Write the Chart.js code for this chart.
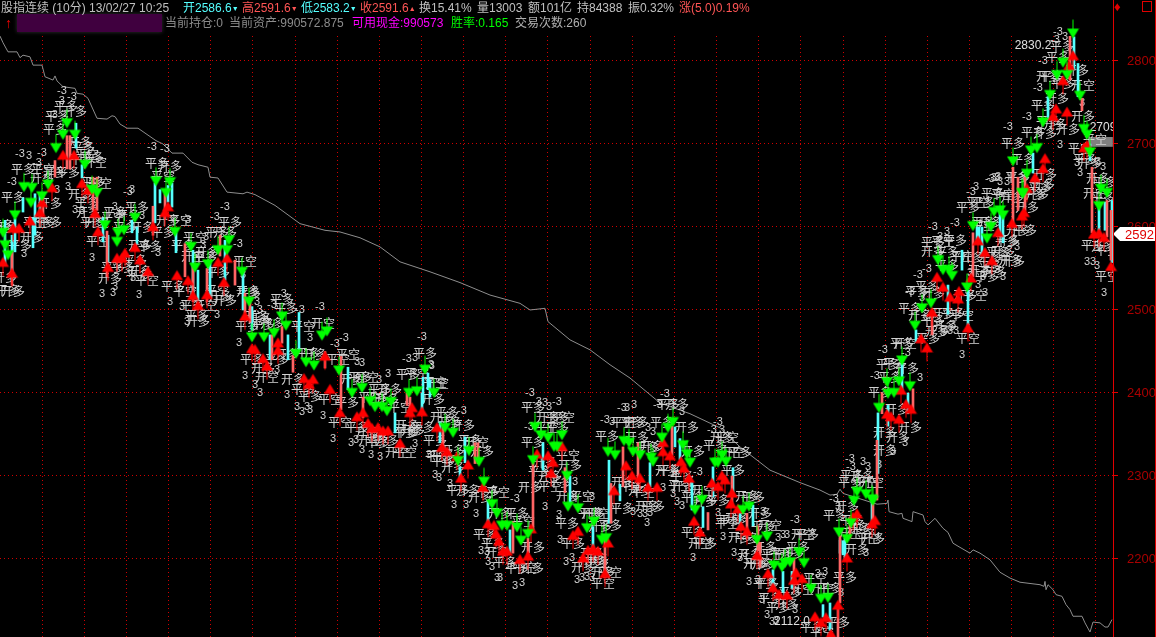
<!DOCTYPE html>
<html lang="zh">
<head>
<meta charset="UTF-8">
<title>股指连续 (10分)</title>
<script src="https://cdn.jsdelivr.net/npm/chart.js"></script>
<style>
  html, body { margin: 0; background: #000; overflow: hidden; }
  #wrap { position: relative; width: 1156px; height: 637px; background: #000; font: 12px "Liberation Sans", "Noto Sans CJK SC", sans-serif; }
  canvas { position: absolute; left: 0; top: 0; }
  #wrap span { position: absolute; white-space: nowrap; line-height: 14px; }
  .l1 { top: 1px; } .l2 { top: 16px; }
  .g { color: #c0c0c0; } .d { color: #8c8c8c; } .c { color: #55ffff; } .r { color: #ff5555; }
  #wrap i { font-style: normal; font-size: 7px; vertical-align: 1px; }
  #mask { position: absolute; left: 17px; top: 14px; width: 145px; height: 18px; background: #40003f; box-shadow: 0 0 4px #333; }
  #axisL { position: absolute; left: 1113px; top: 0; width: 1px; height: 637px; background: #e00000; }
  #axisR { position: absolute; left: 1155px; top: 0; width: 1px; height: 637px; background: #e00000; }
  #box { position: absolute; left: 1142px; top: 1px; width: 8px; height: 9px; border: 1px solid #e00000; }
</style>
</head>
<body>
<div id="wrap">
  <canvas id="c" width="1156" height="637"></canvas>
  <div id="axisL"></div><div id="axisR"></div><div id="box"></div>
  <div id="mask"></div>
  <span class="l1 g" style="left:1px">股指连续 (10分) 13/02/27 10:25</span>
  <span class="l1 c" style="left:183px">开2586.6<i>▼</i></span>
  <span class="l1 r" style="left:242px">高2591.6<i>▼</i></span>
  <span class="l1 c" style="left:301px">低2583.2<i>▼</i></span>
  <span class="l1 r" style="left:360px">收2591.6<i>▲</i></span>
  <span class="l1 g" style="left:419px">换15.41%</span>
  <span class="l1 g" style="left:477px">量13003</span>
  <span class="l1 g" style="left:528px">额101亿</span>
  <span class="l1 g" style="left:577px">持84388</span>
  <span class="l1 g" style="left:628px">振0.32%</span>
  <span class="l1 r" style="left:679px">涨(5.0)0.19%</span>
  <span class="l2" style="left:5px;color:#ff0000;font-weight:bold;font-size:14px">↑</span>
  <span class="l2 d" style="left:165px">当前持仓:0</span>
  <span class="l2 d" style="left:229px">当前资产:990572.875</span>
  <span class="l2" style="left:352px;color:#ff00ff">可用现金:990573</span>
  <span class="l2" style="left:451px;color:#00ff00">胜率:0.165</span>
  <span class="l2" style="left:515px;color:#b0b0b0">交易次数:260</span>
  <span style="left:1114px;top:0;color:#e00000;font-size:13px">♦</span>
</div>
<script>
const equity = [[0,2830],[3,2822],[8,2811],[17,2811],[20,2804],[23,2807],[30,2805],[33,2795],[42,2795],[45,2781],[53,2777],[55,2782],[57,2776],[63,2769],[75,2767],[77,2761],[83,2760],[88,2755],[97,2731],[107,2730],[112,2734],[115,2733],[120,2724],[127,2719],[138,2719],[156,2704],[163,2700],[172,2689],[183,2689],[192,2678],[198,2675],[208,2672],[210,2660],[218,2659],[227,2642],[243,2640],[247,2642],[255,2639],[275,2626],[300,2604],[325,2596],[340,2594],[360,2587],[380,2576],[400,2558],[430,2546],[460,2533],[490,2518],[520,2508],[530,2500],[545,2502],[548,2486],[570,2464],[590,2452],[610,2434],[630,2418],[650,2398],[660,2388],[690,2375],[720,2358],[740,2335],[770,2307],[800,2292],[820,2283],[830,2277],[837,2278],[840,2284],[843,2279],[877,2266],[887,2267],[888,2271],[889,2257],[898,2254],[902,2255],[903,2249],[912,2245],[913,2257],[923,2253],[925,2245],[928,2241],[935,2249],[943,2237],[948,2232],[953,2219],[960,2214],[970,2207],[973,2211],[980,2207],[990,2199],[1000,2184],[1010,2177],[1020,2172],[1040,2169],[1044,2167],[1045,2173],[1046,2163],[1048,2169],[1053,2163],[1056,2157],[1062,2155],[1066,2145],[1070,2139],[1073,2131],[1082,2131],[1085,2123],[1090,2112],[1093,2124],[1100,2123],[1105,2118],[1108,2118],[1112,2127]];

const buys = [[12,2545],[3,2558],[19,2599],[13,2599],[30,2608],[40,2618],[42,2630],[52,2648],[63,2687],[74,2687],[82,2653],[88,2645],[95,2617],[98,2595],[108,2552],[117,2563],[122,2563],[125,2569],
[135,2576],[140,2561],[148,2547],[153,2601],[165,2618],[168,2625],[177,2542],[188,2536],[193,2518],[198,2506],[207,2519],[224,2534],[218,2558],[227,2563],[245,2493],
[252,2454],[255,2453],[263,2442],[267,2433],[278,2461],[278,2452],[304,2418],[309,2411],[313,2417],[325,2445],[330,2405],[340,2377],[357,2372],[363,2377],[368,2364],[372,2358],[378,2359],[383,2355],[388,2355],[400,2340],[412,2383],[410,2377],[422,2378],[437,2359],[442,2335],[447,2330],[457,2324],
[461,2298],[468,2314],[483,2287],[488,2243],[494,2241],[496,2231],[499,2222],[503,2210],[507,2210],[520,2200],[528,2204],[531,2237],[537,2327],[548,2325],[553,2317],[551,2304],[562,2336],[573,2229],[578,2234],[583,2202],[588,2211],[593,2213],[598,2210],
[608,2220],[605,2183],[614,2283],[626,2313],[632,2301],[640,2298],[648,2287],[657,2287],[663,2330],[663,2341],[670,2325],[681,2318],[684,2310],[689,2298],[694,2246],[700,2233],[712,2292],[718,2288],[722,2301],[725,2296],[732,2280],[731,2267],[738,2261],[741,2240],[747,2234],[757,2205],[768,2183],
[773,2166],[779,2158],[787,2157],[794,2175],[796,2184],[802,2177],[815,2131],[821,2124],[826,2130],[831,2110],[838,2145],[847,2202],[853,2251],[857,2255],[872,2243],[875,2247],[887,2375],[891,2372],[899,2369],[906,2387],[911,2381],[901,2404],
[921,2466],[927,2455],[932,2498],[937,2540],[943,2528],[950,2516],[959,2523],[958,2514],[968,2479],[971,2539],[978,2584],[985,2570],[992,2560],[998,2594],[1012,2605],[1022,2614],[1024,2618],[1027,2647],[1035,2660],[1043,2671],[1045,2683],[1053,2734],[1056,2743],[1063,2777],[1067,2739],[1073,2807],[1069,2795],[1084,2696],[1087,2699],[1094,2592],[1099,2593],[1104,2588],[1111,2553]];

const sells = [[3,2593],[5,2578],[8,2566],[15,2614],[24,2648],[32,2647],[31,2629],[42,2637],[48,2651],[56,2695],[63,2711],[67,2725],[75,2711],[85,2675],[92,2645],[97,2641],[105,2602],[117,2582],[118,2593],[124,2596],
[135,2611],[156,2655],[170,2654],[166,2641],[175,2594],[191,2576],[195,2551],[208,2555],[229,2584],[218,2572],[227,2572],[242,2546],[249,2510],
[252,2467],[264,2467],[274,2472],[282,2492],[286,2481],[296,2447],[306,2437],[314,2433],[322,2469],[327,2474],[339,2427],[352,2400],[362,2406],[370,2390],[375,2383],[382,2383],[387,2378],[391,2389],[409,2400],[417,2402],[425,2428],[434,2400],[445,2358],[453,2352],
[458,2318],[469,2330],[479,2317],[484,2293],[492,2266],[497,2255],[502,2240],[507,2240],[517,2238],[528,2230],[521,2222],[535,2359],[541,2349],[533,2319],[548,2346],[554,2335],[562,2349],[557,2335],[567,2300],[568,2263],[578,2261],[587,2237],[594,2245],
[602,2223],[606,2225],[608,2329],[615,2325],[624,2342],[629,2340],[633,2329],[640,2325],[651,2322],[653,2317],[668,2358],[673,2365],[662,2346],[683,2337],[687,2326],[690,2316],[695,2259],[702,2271],[715,2316],[722,2325],[726,2317],[718,2316],[743,2259],[749,2263],[757,2223],[767,2227],
[774,2192],[782,2190],[785,2195],[790,2196],[799,2208],[804,2195],[811,2164],[821,2152],[828,2153],[839,2232],[847,2224],[851,2243],[854,2270],[857,2281],[866,2278],[872,2272],[873,2270],[879,2382],[888,2399],[894,2400],[887,2413],[899,2414],[910,2408],[902,2439],
[915,2481],[922,2502],[931,2508],[938,2560],[943,2548],[949,2548],[952,2541],[967,2527],[973,2601],[987,2586],[991,2600],[994,2618],[1000,2620],[1003,2614],[1013,2679],[1022,2641],[1023,2640],[1027,2664],[1031,2692],[1037,2695],[1043,2726],[1050,2759],[1057,2783],[1063,2798],[1067,2783],[1073,2833],[1080,2758],[1084,2718],[1087,2711],[1090,2690],[1099,2625],[1101,2646],[1107,2641]];

// x, low, high
const downWicks = [[5,2554,2608],[12,2535,2590],[15,2570,2610],[23,2618,2635],[33,2575,2611],[35,2590,2640],[40,2610,2640],[76,2695,2725],[82,2659,2675],[103,2582,2611],[108,2558,2590],
[155,2605,2653],[160,2629,2645],[168,2630,2650],[172,2624,2653],[132,2593,2608],[137,2580,2600],[176,2569,2593],[193,2516,2572],[198,2512,2548],[210,2516,2557],[225,2536,2584],[243,2500,2545],
[299,2452,2497],[252,2476,2504],[288,2440,2470],[270,2440,2470],[348,2404,2431],[423,2388,2419],[430,2395,2416],[395,2352,2376],[440,2340,2365],
[422,2380,2400],[428,2404,2424],[465,2316,2347],[460,2295,2311],[488,2245,2270],[510,2207,2235],[543,2307,2340],[570,2265,2300],[593,2211,2239],
[609,2243,2319],[620,2270,2290],[650,2287,2316],[675,2335,2359],[680,2320,2345],[692,2259,2292],[703,2238,2263],[713,2275,2311],[733,2280,2310],[753,2240,2265],
[740,2235,2262],[773,2166,2187],[783,2160,2185],[792,2165,2185],[830,2114,2147],[823,2130,2145],[843,2205,2222],
[878,2303,2376],[888,2360,2385],[902,2400,2436],[908,2375,2400],[840,2207,2223],[845,2200,2225],[872,2240,2270],
[916,2462,2476],[962,2548,2572],[968,2479,2524],[977,2584,2600],[979,2584,2600],[948,2495,2530],[1000,2592,2617],
[982,2565,2600],[1003,2581,2617],[1033,2665,2689],[1048,2729,2757],[1074,2789,2829],[1078,2757,2797],[1090,2680,2700],[1112,2557,2632],[1099,2596,2625],[1105,2596,2630]];

const upWicks = [[1013,2600,2672],[1070,2777,2834],[1092,2593,2672],[1107,2588,2632],[1111,2560,2620],[1082,2740,2755],
[973,2540,2593],[1018,2620,2660],[932,2470,2498],[1025,2620,2660],
[877,2271,2343],[873,2240,2275],[913,2380,2405],[882,2375,2400],[850,2225,2250],
[838,2106,2147],[840,2147,2228],[794,2175,2200],[758,2210,2240],
[611,2243,2291],[605,2180,2225],[623,2287,2335],[638,2290,2340],[672,2325,2360],[708,2235,2256],[732,2265,2300],[747,2225,2255],[760,2190,2220],
[533,2235,2316],[513,2207,2245],[528,2200,2225],[565,2280,2310],[478,2315,2340],[475,2315,2340],[443,2335,2360],[407,2385,2400],
[341,2380,2444],[245,2496,2520],[272,2440,2470],[282,2460,2480],[293,2425,2445],[325,2430,2450],[363,2370,2395],[410,2375,2395],
[67,2670,2710],[70,2670,2710],[55,2660,2680],[12,2530,2570],[43,2615,2640],[107,2540,2595],[93,2620,2660],[97,2620,2660],
[153,2590,2625],[165,2610,2640],[185,2540,2580],[193,2510,2555],[207,2510,2550],[220,2565,2590],[235,2530,2560],[250,2485,2510]];

const greyBand = [[1101,2697,2708]];

const pingDuo = [[57,2733],[66,2745],[55,2717],[83,2696],[23,2669],[68,2666],[92,2684],[82,2681],[93,2654],[87,2630],[92,2606],[13,2635],[50,2606],[20,2578],[2,2602],[115,2617],[125,2600],[113,2551],[123,2551],[8,2524],
[157,2677],[137,2623],[163,2593],[150,2576],[183,2578],[135,2560],[173,2528],[205,2563],[192,2506],[197,2494],[217,2594],[230,2605],[218,2545],[247,2480],[138,2542],
[249,2520],[282,2513],[286,2502],[263,2482],[252,2440],[277,2440],[308,2448],[303,2404],[310,2396],[347,2389],[360,2419],[380,2404],[377,2395],[357,2359],[377,2347],[407,2352],[423,2358],[408,2422],[425,2448],[447,2376],[435,2343],[443,2325],[378,2341],
[405,2353],[437,2323],[443,2317],[470,2343],[458,2283],[488,2281],[517,2255],[485,2229],[493,2219],[505,2196],[517,2189],[533,2382],[557,2370],[533,2341],[540,2305],[560,2292],[590,2255],[567,2243],[573,2219],[597,2199],[557,2358],
[610,2241],[597,2196],[622,2261],[632,2287],[607,2348],[632,2364],[662,2365],[647,2334],[682,2299],[693,2274],[718,2271],[693,2232],[705,2219],[668,2386],[653,2263],[740,2328],[733,2307],[715,2337],[753,2274],[730,2247],[747,2225],[763,2239],[757,2195],[767,2171],[670,2307],
[782,2207],[798,2214],[807,2229],[765,2171],[790,2160],[770,2153],[778,2142],[830,2165],[812,2118],[838,2124],[845,2178],[835,2253],[852,2247],[863,2235],
[902,2460],[888,2434],[895,2436],[890,2419],[880,2401],[852,2301],[850,2292],
[968,2623],[993,2641],[1040,2648],[1017,2660],[1025,2596],[1007,2582],[933,2581],[955,2584],[947,2569],[990,2563],[947,2554],[987,2540],[927,2528],[917,2522],[910,2502],[933,2488],[953,2496],[928,2466],
[1062,2817],[1058,2804],[1052,2781],[1063,2773],[1043,2747],[1048,2727],[1033,2714],[1013,2701],[1023,2681],[1018,2660],[1033,2639],[983,2629],[983,2605],[998,2569],[990,2552],[1085,2681],[1105,2654],[1103,2636],[1093,2578],[1107,2572]];

const kaiDuo = [[75,2739],[80,2702],[55,2666],[42,2659],[80,2639],[88,2618],[50,2628],[43,2606],[32,2587],[5,2599],[128,2614],[110,2538],[5,2539],[13,2522],
[170,2673],[168,2608],[142,2600],[140,2578],[140,2546],[207,2569],[198,2486],[225,2593],[220,2516],[225,2512],[248,2522],[257,2492],
[260,2490],[272,2484],[293,2416],[263,2430],[287,2446],[315,2446],[352,2416],[390,2404],[387,2392],[367,2352],[387,2343],[407,2361],[433,2392],[450,2364],[453,2331],[413,2355],
[442,2371],[463,2361],[453,2310],[482,2329],[468,2283],[480,2274],[500,2255],[497,2208],[533,2214],[532,2189],[548,2370],[545,2316],[570,2313],[550,2299],[530,2286],[568,2275],[592,2207],[583,2190],
[593,2255],[600,2239],[590,2196],[603,2184],[623,2292],[640,2283],[637,2365],[637,2346],[652,2335],[667,2307],[683,2287],[705,2269],[677,2386],[687,2358],[693,2329],[647,2263],[722,2346],[747,2275],[737,2249],[740,2226],[765,2214],[763,2193],
[760,2255],[750,2205],[755,2195],[792,2207],[787,2145],[847,2263],[857,2211],[873,2225],
[907,2430],[897,2380],[910,2359],[885,2353],[898,2347],[885,2331],[862,2299],[858,2237],
[1012,2635],[1037,2639],[1018,2596],[933,2570],[972,2563],[1003,2570],[1013,2558],[980,2548],[995,2545],[933,2520],[965,2518],[920,2494],[943,2496],[945,2480],[937,2474],
[1048,2781],[1077,2789],[1057,2755],[1068,2717],[1055,2723],[1045,2713],[1045,2663],[1043,2651],[1027,2624],[990,2605],[1010,2560],[1008,2584],[1083,2733],[1090,2677],[1098,2659],[1103,2576]];

const pingKong = [[43,2669],[87,2687],[100,2653],[35,2606],[98,2582],[113,2611],
[163,2661],[180,2608],[195,2588],[147,2536],[185,2522],[217,2524],[245,2558],
[303,2480],[338,2440],[348,2446],[330,2392],[370,2395],[400,2383],[340,2364],[417,2424],
[435,2413],[405,2328],[498,2280],[523,2245],[525,2190],[563,2370],[568,2325],[550,2287],[582,2275],[547,2358],
[598,2255],[610,2184],[603,2170],[623,2364],[643,2280],[727,2346],[727,2243],[680,2289],
[773,2205],[815,2177],[822,2111],[866,2292],[868,2225],
[978,2629],[1003,2639],[983,2602],[943,2582],[962,2564],[975,2518],[962,2494],[968,2466],
[1095,2705],[1080,2695],[1107,2540]];

const kaiKong = [[95,2678],[97,2606],[193,2564],[205,2506],[323,2484],[267,2419],[367,2419],[397,2328],[437,2412],[370,2343],[477,2341],[703,2283],[700,2219],[733,2328],[770,2241],[803,2229],[802,2163],[822,2165],[850,2231],[872,2292],[905,2460],[1083,2771],[1095,2641]];

const minus3 = [[62,2764],[60,2752],[72,2757],[53,2735],[20,2688],[42,2689],[12,2654],[37,2677],[113,2624],[128,2642],[152,2696],[165,2694],[225,2624],[215,2612],[238,2580],[282,2519],[272,2506],[258,2500],[300,2500],[320,2504],[335,2459],[344,2466],[422,2467],[407,2441],[430,2433],[462,2378],[530,2400],[537,2389],[557,2389],[529,2359],[515,2272],[605,2367],[622,2382],[658,2386],[665,2399],[718,2365],[712,2355],[698,2305],[795,2247],[816,2182],[883,2452],[906,2448],[875,2420],[850,2320],[851,2311],[834,2272],[933,2600],[955,2605],[971,2642],[992,2659],[927,2549],[918,2542],[910,2522],[1058,2835],[1055,2825],[1043,2800],[1038,2767],[1027,2733],[1008,2720],[990,2658]];

const three = [[29,2686],[68,2648],[57,2645],[75,2620],[82,2619],[24,2567],[92,2563],[115,2528],[102,2519],[113,2520],[132,2645],[142,2613],[188,2608],[206,2588],[203,2578],[243,2542],[170,2510],[182,2504],[187,2486],[217,2494],[133,2538],[139,2518],[158,2569],[257,2510],[239,2460],[310,2466],[245,2420],[255,2410],[260,2400],[287,2398],[297,2383],[302,2377],[307,2383],[310,2380],[323,2372],[333,2345],[351,2340],[356,2343],[362,2331],[371,2325],[380,2323],[277,2428],[357,2437],[362,2436],[388,2423],[379,2416],[415,2442],[431,2434],[415,2339],[429,2325],[435,2301],[439,2298],[450,2290],[454,2265],[466,2265],[476,2254],[481,2210],[487,2208],[488,2196],[492,2190],[497,2177],[500,2177],[515,2167],[522,2171],[545,2388],[549,2383],[545,2263],[560,2223],[559,2253],[566,2196],[572,2201],[577,2175],[582,2177],[587,2178],[592,2177],[575,2293],[592,2275],[627,2382],[634,2386],[682,2377],[722,2355],[612,2365],[648,2358],[653,2353],[663,2286],[633,2257],[640,2254],[645,2254],[650,2255],[647,2243],[673,2278],[677,2269],[682,2264],[718,2255],[723,2226],[734,2207],[740,2201],[745,2206],[693,2201],[749,2172],[758,2175],[762,2151],[767,2133],[772,2124],[776,2125],[795,2139],[763,2257],[778,2225],[783,2229],[787,2229],[838,2263],[866,2207],[841,2159],[825,2184],[863,2317],[868,2311],[879,2313],[920,2418],[962,2446],[905,2340],[893,2329],[976,2648],[998,2660],[1007,2654],[1000,2654],[940,2588],[947,2594],[922,2514],[970,2545],[978,2530],[985,2520],[997,2548],[1003,2540],[1017,2576],[953,2482],[950,2475],[945,2476],[956,2475],[943,2472],[1065,2829],[1060,2699],[1077,2677],[1080,2665],[1098,2678],[1103,2672],[997,2659],[983,2540],[1087,2558],[1093,2558],[1097,2553],[1104,2520],[1082,2749]];

const extremes = [[1033,2819,'2830.2'],[1103,2720,'2709'],[792,2124,'2112.0']];
const lastPrice = 2592;
const priceTicks = { min: 2106, max: 2830.1, step: 100 };
const timeStep = 42.15;

// arrow marker: triangle sits on the point, the stem runs away from it
function arrow(color, up) {
  const cv = document.createElement('canvas');
  cv.width = 13; cv.height = 31;
  const g = cv.getContext('2d');
  g.fillStyle = color;
  g.translate(6.5, 15.5);
  if (!up) g.scale(1, -1);
  g.beginPath(); g.moveTo(0, -5); g.lineTo(6, 5); g.lineTo(-6, 5); g.closePath(); g.fill();
  g.fillRect(-0.5, 0, 1, 14);
  return cv;
}

const labelSets = [
  [pingDuo, '平多', '12px "Noto Sans CJK SC"'],
  [kaiDuo, '开多', '12px "Noto Sans CJK SC"'],
  [pingKong, '平空', '12px "Noto Sans CJK SC"'],
  [kaiKong, '开空', '12px "Noto Sans CJK SC"'],
  [minus3, '-3', '11px "Liberation Sans"'],
  [three, '3', '11px "Liberation Sans"']
];

const tradeLabels = {
  id: 'tradeLabels',
  afterDatasetDraw(chart, args) {
    if (args.index !== 4) return; // right after the equity line, under wicks and arrows
    const { ctx, scales: { x, y }, chartArea } = chart;
    ctx.save();
    ctx.beginPath();
    ctx.rect(0, 0, chartArea.right, chart.height);
    ctx.clip();
    ctx.textAlign = 'center';
    ctx.textBaseline = 'middle';
    ctx.fillStyle = '#d2d2d2';
    labelSets.forEach(([pts, txt, font]) => {
      ctx.font = font;
      pts.forEach(p => ctx.fillText(txt, x.getPixelForValue(p[0]), y.getPixelForValue(p[1])));
    });
    ctx.font = '12px "Liberation Sans"';
    ctx.fillStyle = '#e0e0e0';
    extremes.forEach(e => ctx.fillText(e[2], x.getPixelForValue(e[0]), y.getPixelForValue(e[1])));
    ctx.restore();
  },
  afterDraw(chart) {
    const { ctx, scales: { y }, chartArea } = chart;
    const py = Math.round(y.getPixelForValue(lastPrice));
    const left = chartArea.right;
    ctx.save();
    ctx.fillStyle = '#ffffff';
    ctx.beginPath();
    ctx.moveTo(left, py);
    ctx.lineTo(left + 7, py - 7);
    ctx.lineTo(left + 42, py - 7);
    ctx.lineTo(left + 42, py + 7);
    ctx.lineTo(left + 7, py + 7);
    ctx.closePath();
    ctx.fill();
    ctx.fillStyle = '#e00000';
    ctx.font = '13px "Liberation Sans"';
    ctx.textAlign = 'right';
    ctx.textBaseline = 'middle';
    ctx.fillText(String(lastPrice), left + 41, py + 1);
    ctx.restore();
  }
};

const toPoints = a => a.map(p => ({ x: p[0], y: p[1] }));
const toBars = a => a.map(p => ({ x: p[0], y: [p[1], p[2]] }));
const wick = (data, color, thick) => ({ type: 'bar', data: toBars(data), backgroundColor: color, barThickness: thick, grouped: false });

new Chart(document.getElementById('c'), {
  type: 'scatter',
  data: {
    datasets: [
      { data: toPoints(sells), pointStyle: arrow('#00ff00', false), pointRadius: 6, clip: false },
      { data: toPoints(buys), pointStyle: arrow('#ff0000', true), pointRadius: 6, clip: false },
      wick(upWicks, '#ff6464', 2),
      wick(downWicks, '#55ffff', 2),
      { type: 'line', data: toPoints(equity), borderColor: '#8e8e8e', borderWidth: 1, pointRadius: 0, tension: 0 },
      wick(greyBand, '#808080', 23)
    ]
  },
  options: {
    responsive: false,
    animation: false,
    devicePixelRatio: 1,
    layout: { autoPadding: false, padding: { top: 36, left: 0, right: 0, bottom: 0 } },
    plugins: { legend: { display: false }, tooltip: { enabled: false } },
    scales: {
      x: {
        type: 'linear', min: 0, max: 1113, offset: false,
        border: { display: false, dash: [1, 3] },
        grid: { offset: false, drawTicks: false, color: c => c.tick && c.tick.value === 0 ? 'transparent' : '#d00000' },
        ticks: { display: false, stepSize: timeStep, includeBounds: false, autoSkip: false },
        afterFit(s) { s.height = 0; s.paddingLeft = 0; s.paddingRight = 0; }
      },
      y: {
        position: 'right', min: priceTicks.min, max: priceTicks.max,
        border: { display: false, dash: [1, 3] },
        grid: { color: '#d00000', tickColor: '#e00000', tickLength: 5 },
        ticks: { stepSize: priceTicks.step, includeBounds: false, color: '#a80000', padding: 9, font: { family: 'Liberation Sans', size: 13 }, callback: v => String(v) },
        afterFit(s) { s.width = 43; s.paddingTop = 0; s.paddingBottom = 0; }
      }
    }
  },
  plugins: [tradeLabels]
});
</script>
</body>
</html>
